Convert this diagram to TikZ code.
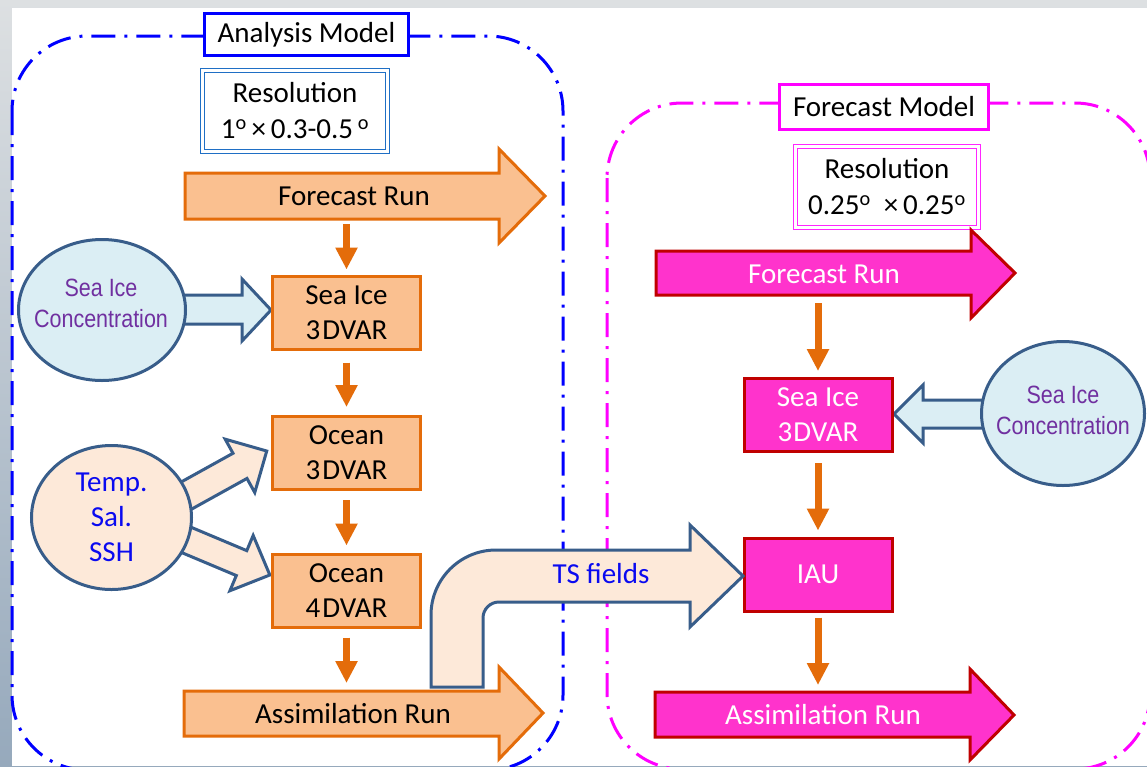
\documentclass[tikz,border=0pt]{standalone}
\usepackage{fontspec}
\usepackage{graphicx}
\setmainfont{Carlito}
\newfontfamily\arialf{Liberation Sans}
\usetikzlibrary{arrows.meta,shapes.geometric}
\definecolor{orfill}{HTML}{FAC090}
\definecolor{orline}{HTML}{E46C0A}
\definecolor{mgfill}{HTML}{FF33CC}
\definecolor{mgline}{HTML}{C00000}
\definecolor{icefill}{HTML}{DBEEF4}
\definecolor{peach}{HTML}{FDE9D9}
\definecolor{steel}{HTML}{385D8A}
\definecolor{purp}{HTML}{7030A0}
\definecolor{txtblue}{HTML}{0A0AF0}
\definecolor{contblue}{HTML}{0000FF}
\definecolor{contmag}{HTML}{FF00FF}
\definecolor{resblue}{HTML}{1F6FC5}
\definecolor{bgtop}{HTML}{DDE0E2}
\definecolor{bgbot}{HTML}{96A9BC}
\begin{document}
\begin{tikzpicture}[x=1pt,y=-1pt,
  txt/.style={font=\fontsize{29}{35}\selectfont, inner sep=0pt},
  rbox/.style={rectangle, minimum width=148pt, minimum height=73pt, inner sep=0pt, line width=3pt, align=center, font=\fontsize{29}{35}\selectfont},
  obox/.style={rbox, draw=orline, fill=orfill},
  mbox/.style={rbox, draw=mgline, fill=mgfill, text=white},
  orrun/.style={draw=orline, fill=orfill, line width=3pt},
  mgrun/.style={draw=mgline, fill=mgfill, line width=3pt},
  blk/.style={draw=steel, line width=3pt},
  conn/.style={draw=orline, line width=7pt, -{Triangle[width=21pt,length=22pt]}},
  ell/.style={ellipse, draw=steel, line width=3pt, inner sep=0pt},
  cont/.style={line width=3pt, dash pattern=on 24pt off 9pt on 3pt off 9pt, rounded corners=75pt},
  tagbox/.style={rectangle, fill=white, line width=2.5pt, inner sep=0pt, font=\fontsize{29}{35}\selectfont},
  res/.style={rectangle, fill=white, line width=1.3pt, double=white, double distance=2.2pt, inner sep=0pt, align=center, font=\fontsize{29}{36}\selectfont},
  sictxt/.style={inner sep=0pt, align=center, text=purp, font=\arialf\fontsize{25}{31}\selectfont}
]
\useasboundingbox (0,0) rectangle (1147,766);
\clip (0,0) rectangle (1147,766);
% background
\fill[top color=bgtop, bottom color=bgbot] (0,0) rectangle (1147,766);
\fill[white] (12,8) rectangle (1147,766);

% containers
\draw[cont, draw=contblue] (12,36) rectangle (563,770);
\draw[cont, draw=contmag] (607,103) rectangle (1150,769);

% title boxes
\node[tagbox, draw=contblue, minimum width=204pt, minimum height=42pt] (am) at (306.5,34.5) {Analysis Model};
\node[tagbox, draw=contmag, minimum width=209pt, minimum height=45pt] (fm) at (884,107) {Forecast Model};

% resolution boxes
\node[res, draw=resblue, minimum width=185pt, minimum height=81pt] (res1) at (295,111)
  {Resolution\\1\textsuperscript{o}\,×\,0.3-0.5\,\textsuperscript{o}};
\node[res, draw=contmag!85!white, minimum width=183pt, minimum height=81pt] (res2) at (887,187)
  {Resolution\\0.25\textsuperscript{o}\ \ ×\,0.25\textsuperscript{o}};

% run arrows (left)
\draw[orrun] (185,173) -- (499,173) -- (499,149) -- (545,196) -- (499,243) -- (499,219) -- (185,219) -- cycle;
\draw[orrun] (184,691) -- (499,691) -- (499,667) -- (543,713) -- (499,759) -- (499,736) -- (184,736) -- cycle;
% run arrows (right)
\draw[mgrun] (656,251) -- (971,251) -- (971,230) -- (1015,273) -- (971,318) -- (971,295) -- (656,295) -- cycle;
\draw[mgrun] (655,692) -- (970,692) -- (970,669) -- (1014,715) -- (970,760) -- (970,737) -- (655,737) -- cycle;

\coordinate (fr1s) at (346.5,219);
\coordinate (ar1n) at (346.5,691);
\coordinate (fr2s) at (818,295);
\coordinate (ar2n) at (818,692);

\node[txt, anchor=base] (fr1) at (354,205) {Forecast Run};
\node[txt, anchor=base] (ar1) at (353,723) {Assimilation Run};
\node[txt, anchor=base, text=white] (fr2) at (824,283) {Forecast Run};
\node[txt, anchor=base, text=white] (ar2) at (823,724) {Assimilation Run};

% block arrows into boxes
\draw[blk, fill=icefill] (175,295) -- (242,295) -- (242,279) -- (271,310) -- (242,341) -- (242,324) -- (175,324) -- cycle;
\draw[blk, fill=icefill] (990,400) -- (923,400) -- (923,385) -- (894,414) -- (923,443) -- (923,428) -- (990,428) -- cycle;
\begin{scope}[shift={(191,493)}, rotate=29]
  \draw[blk, fill=peach] (-14,-14.4) -- (56,-14.4) -- (56,-30.5) -- (86.6,0) -- (56,30.5) -- (56,14.4) -- (-14,14.4) -- cycle;
\end{scope}
\begin{scope}[shift={(189,541)}, rotate=-22.8]
  \draw[blk, fill=peach] (-14,-13.5) -- (57,-13.5) -- (57,-30) -- (87.7,0) -- (57,30) -- (57,13.5) -- (-14,13.5) -- cycle;
\end{scope}

% ellipses
\node[ell, fill=icefill, minimum width=167pt, minimum height=141pt] (sic1) at (102,310) {};
\node[sictxt] (sic1t) at (101,303.5) {\scalebox{0.86}[1]{Sea Ice}\\\scalebox{0.86}[1]{Concentration}};
\node[ell, fill=peach, minimum width=160pt, minimum height=144pt, text=txtblue, align=center, font=\fontsize{29}{35}\selectfont] (tss) at (111.5,517.5) {Temp.\\Sal.\\SSH};
\node[ell, fill=icefill, minimum width=163pt, minimum height=144pt] (sic2) at (1063,413.5) {};
\node[sictxt] (sic2t) at (1063,410) {\scalebox{0.86}[1]{Sea Ice}\\\scalebox{0.86}[1]{Concentration}};

% boxes
\node[obox] (si1) at (346.5,312.5) {Sea Ice\\3\kern2pt DVAR};
\node[obox] (oc3) at (346.5,453) {Ocean\\3\kern2pt DVAR};
\node[obox] (oc4) at (346.5,590.5) {Ocean\\4\kern2pt DVAR};
\node[mbox] (si2) at (818,415) {Sea Ice\\3\kern1pt DVAR};
\node[mbox] (iau) at (818,574.5) {IAU};

% orange connectors
\draw[conn, shorten <=5pt, shorten >=5pt] (fr1s) -- (si1.north);
\draw[conn, shorten <=12pt, shorten >=8pt] (si1.south) -- (oc3.north);
\draw[conn, shorten <=9pt, shorten >=7pt] (oc3.south) -- (oc4.north);
\draw[conn, shorten <=9pt, shorten >=8pt] (oc4.south) -- (ar1n);
\draw[conn, shorten <=8pt, shorten >=6pt] (fr2s) -- (si2.north);
\draw[conn, shorten <=10pt, shorten >=6pt] (si2.south) -- (iau.north);
\draw[conn, shorten <=5pt, shorten >=7pt] (iau.south) -- (ar2n);

% TS fields bent arrow
\draw[blk, fill=peach] (431,687) -- (431,615) arc[start angle=180, end angle=270, radius=65]
  -- (690,550) -- (690,525) -- (743,576) -- (690,627) -- (690,602) -- (499,602)
  arc[start angle=270, end angle=180, radius=16] -- (483,687) -- cycle;
\node[txt, anchor=base, text=txtblue] (ts) at (601,583) {TS fields};
\end{tikzpicture}
\end{document}
